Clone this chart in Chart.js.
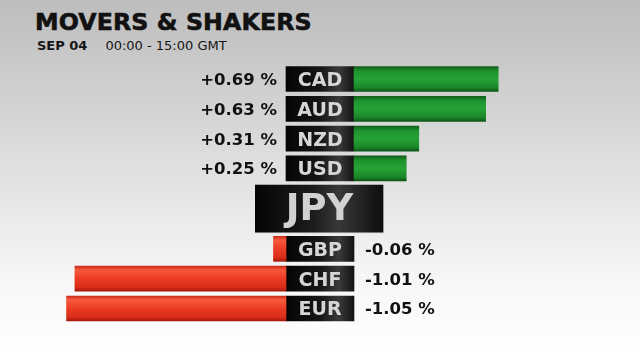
<!DOCTYPE html>
<html>
<head>
<meta charset="utf-8">
<script src="https://cdn.jsdelivr.net/npm/chart.js@4"></script>
<style>
    html, body { margin: 0; padding: 0; }
    body {
        width: 640px; height: 360px; overflow: hidden; position: relative;
        background: linear-gradient(to bottom, #bdbdbd 0%, #cfcfcf 25%, #e6e6e6 55%, #f8f8f8 80%, #ffffff 100%);
        font-family: "DejaVu Sans", sans-serif;
    }
    #title {
        position: absolute; left: 35px; top: 11px; margin: 0;
        font-size: 23.7px; font-weight: bold; line-height: 1; color: #111;
        -webkit-text-stroke: 0.6px #111; letter-spacing: 0.1px;
    }
    #subtitle {
        position: absolute; left: 37px; top: 39px; font-size: 13px; line-height: 1; color: #151515;
    }
    #subtitle b { margin-right: 18px; }
    #chart { position: absolute; left: 0; top: 0; }
</style>
</head>
<body>
<h1 id="title"></h1>
<div id="subtitle"><b id="date-label"></b><span id="time-label"></span></div>
<canvas id="chart" width="640" height="360"></canvas>
<script>
const titleText = 'MOVERS & SHAKERS';
const dateLabel = 'SEP 04';
const timeLabel = '00:00 - 15:00 GMT';

const currencies = ['CAD', 'AUD', 'NZD', 'USD', 'JPY', 'GBP', 'CHF', 'EUR'];
const changes = [0.69, 0.63, 0.31, 0.25, null, -0.06, -1.01, -1.05];
const baseCurrency = 'JPY';

// layout (pixels)
const PX_PER_PCT = 209;
const BOX_LEFT = 286;
const BOX_W = 68;
const ROW_PX = 29.8;
const FIRST_ROW = 79;
const BASE_GAP = 0.35;
const BASE_LEFT = 255, BASE_RIGHT = 384;

document.getElementById('title').textContent = titleText;
document.getElementById('date-label').textContent = dateLabel;
document.getElementById('time-label').textContent = timeLabel;

const baseIdx = currencies.indexOf(baseCurrency);
const xMin = -BOX_LEFT / PX_PER_PCT;
const xMax = (640 - BOX_LEFT) / PX_PER_PCT;
const boxW = BOX_W / PX_PER_PCT;
const toVal = px => (px - BOX_LEFT) / PX_PER_PCT;
const yMin = -FIRST_ROW / ROW_PX;
const yMax = yMin + 360 / ROW_PX;

function rowPos(i) {
    if (i < baseIdx) return i;
    if (i === baseIdx) return i + BASE_GAP;
    return i + 2 * BASE_GAP;
}

const moverRows = currencies.map((c, i) => i).filter(i => i !== baseIdx);

const barData = moverRows.map(i => ({
    y: rowPos(i),
    x: changes[i] >= 0 ? [boxW, boxW + changes[i]] : [changes[i], 0],
    v: changes[i]
}));
const boxData = moverRows.map(i => ({ y: rowPos(i), x: [0, boxW], label: currencies[i] }));
const baseData = [{ y: rowPos(baseIdx), x: [toVal(BASE_LEFT), toVal(BASE_RIGHT)], label: baseCurrency }];

function barFill(ctx) {
    const chart = ctx.chart;
    const raw = ctx.raw;
    if (!chart.chartArea || !raw) return '#1f9a2f';
    const yc = chart.scales.y.getPixelForValue(raw.y);
    const g = chart.ctx.createLinearGradient(0, yc - 12.5, 0, yc + 12.5);
    if (raw.v >= 0) {
        g.addColorStop(0, '#11601a');
        g.addColorStop(0.18, '#1e922e');
        g.addColorStop(0.5, '#27a336');
        g.addColorStop(0.85, '#1a8628');
        g.addColorStop(1, '#0d5515');
    } else {
        g.addColorStop(0, '#c82a18');
        g.addColorStop(0.15, '#f65a3c');
        g.addColorStop(0.5, '#ec3b24');
        g.addColorStop(0.85, '#d92d19');
        g.addColorStop(1, '#a5180c');
    }
    return g;
}

function boxFill(ctx) {
    const chart = ctx.chart;
    if (!chart.chartArea) return '#111';
    const x0 = chart.scales.x.getPixelForValue(0);
    const x1 = chart.scales.x.getPixelForValue(boxW);
    const g = chart.ctx.createLinearGradient(x0, 0, x1, 0);
    g.addColorStop(0, '#040404');
    g.addColorStop(0.5, '#161616');
    g.addColorStop(0.78, '#3a3a3a');
    g.addColorStop(1, '#121212');
    return g;
}

function baseFill(ctx) {
    const chart = ctx.chart;
    if (!chart.chartArea) return '#111';
    const g = chart.ctx.createLinearGradient(BASE_LEFT, 0, BASE_RIGHT, 0);
    g.addColorStop(0, '#050505');
    g.addColorStop(0.45, '#1c1c1c');
    g.addColorStop(0.65, '#383838');
    g.addColorStop(1, '#0c0c0c');
    return g;
}

const labelPlugin = {
    id: 'labels',
    afterDatasetsDraw(chart) {
        const c = chart.ctx;
        const xs = chart.scales.x, ys = chart.scales.y;
        const boxL = xs.getPixelForValue(0), boxR = xs.getPixelForValue(boxW);
        c.save();
        moverRows.forEach(i => {
            const yc = ys.getPixelForValue(rowPos(i));
            c.fillStyle = '#d6d6d6';
            c.font = 'bold 19px "DejaVu Sans"';
            c.textAlign = 'center';
            c.textBaseline = 'alphabetic';
            c.fillText(currencies[i], (boxL + boxR) / 2, yc + 7);
            const v = changes[i];
            const txt = (v >= 0 ? '+' : '') + v.toFixed(2) + ' %';
            c.fillStyle = '#111';
            c.font = 'bold 16.5px "DejaVu Sans"';
            if (v >= 0) {
                c.textAlign = 'right';
                c.fillText(txt, boxL - 9, yc + 6);
            } else {
                c.textAlign = 'left';
                c.fillText(txt, boxR + 11, yc + 6);
            }
        });
        const yb = ys.getPixelForValue(rowPos(baseIdx));
        c.fillStyle = '#d2d2d2';
        c.font = 'bold 37px "DejaVu Sans"';
        c.textAlign = 'center';
        c.fillText(baseCurrency, (BASE_LEFT + BASE_RIGHT) / 2, yb + 11);
        c.restore();
    }
};

new Chart(document.getElementById('chart'), {
    type: 'bar',
    data: {
        datasets: [
            { data: barData, backgroundColor: barFill, barThickness: 25, grouped: false, borderWidth: 0 },
            { data: boxData, backgroundColor: boxFill, barThickness: 25, grouped: false, borderWidth: 0 },
            { data: baseData, backgroundColor: baseFill, barThickness: 49, grouped: false,
              borderColor: '#dcdcdc', borderWidth: 1 }
        ]
    },
    options: {
        indexAxis: 'y',
        responsive: false,
        animation: false,
        events: [],
        layout: { padding: 0 },
        plugins: { legend: { display: false }, tooltip: { enabled: false } },
        scales: {
            x: { type: 'linear', min: xMin, max: xMax, display: false },
            y: { type: 'linear', min: yMin, max: yMax, reverse: true, offset: false, display: false }
        }
    },
    plugins: [labelPlugin]
});
</script>
</body>
</html>
